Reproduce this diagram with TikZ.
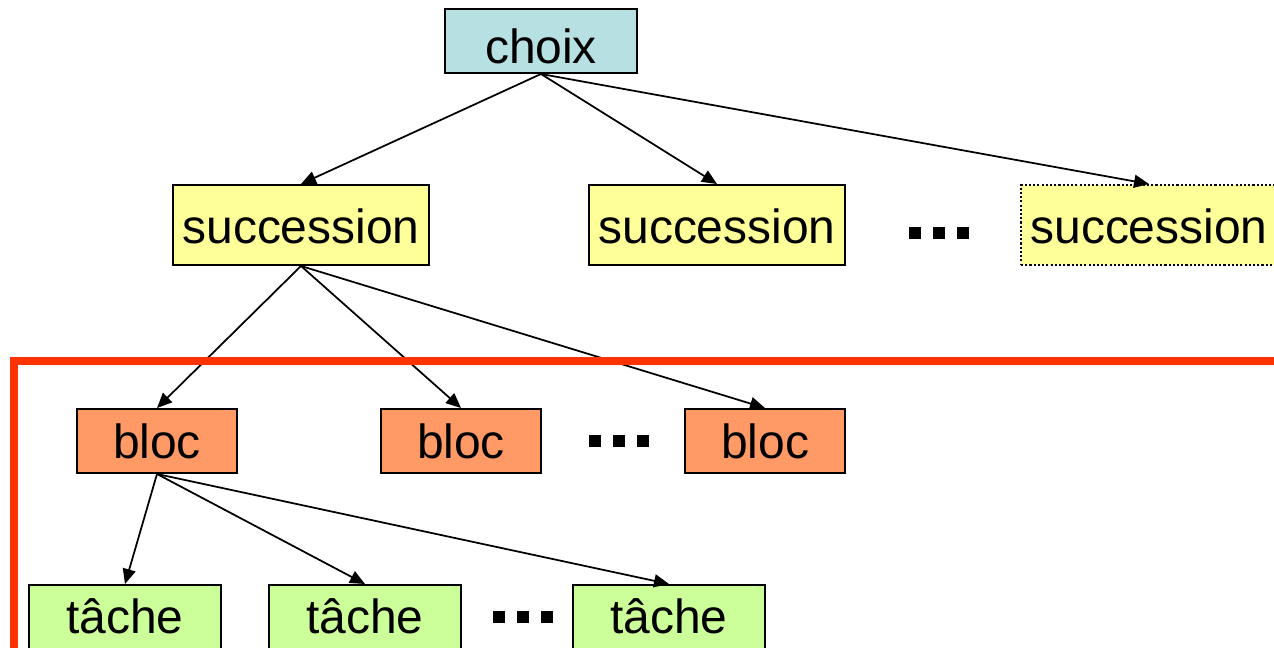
\documentclass[tikz,border=0pt]{standalone}
\usepackage{fontspec}
\setmainfont{Liberation Sans}
\usetikzlibrary{arrows.meta}

\definecolor{choixblue}{RGB}{183,224,227}
\definecolor{succyellow}{RGB}{255,255,153}
\definecolor{blocorange}{RGB}{255,153,102}
\definecolor{tachegreen}{RGB}{204,255,153}
\definecolor{framered}{RGB}{255,51,0}

\tikzset{
    box/.style={draw, line width=0.04cm, inner sep=0pt,
        font=\fontsize{27.3}{31}\selectfont, text height=20pt, text depth=0pt},
    choixbox/.style={box, fill=choixblue, minimum width=3.84cm, minimum height=1.28cm, text height=26pt},
    succbox/.style={box, fill=succyellow, minimum width=5.12cm, minimum height=1.6cm, text height=21pt},
    blocbox/.style={box, fill=blocorange, minimum width=3.2cm, minimum height=1.28cm},
    tachebox/.style={box, fill=tachegreen, minimum width=3.84cm, minimum height=1.28cm, text height=19pt},
    link/.style={-{Triangle[length=0.3cm, width=0.26cm]}, line width=0.035cm}
}

\begin{document}
\begin{tikzpicture}[x=0.02cm, y=-0.02cm]
        \path[use as bounding box, clip] (0,0) rectangle (1274,648);

        \node[choixbox] (choix) at (541,41) {choix};

        \node[succbox] (succA) at (301,225) {succession};
        \node[succbox] (succB) at (717,225) {succession};
        \node[succbox, dash pattern=on 1.2pt off 1.2pt] (succC) at (1149,225) {succession};

        \node[blocbox] (blocA) at (157,441) {bloc};
        \node[blocbox] (blocB) at (461,441) {bloc};
        \node[blocbox] (blocC) at (765,441) {bloc};

        \node[tachebox] (tacheA) at (125,617) {tâche};
        \node[tachebox] (tacheB) at (365,617) {tâche};
        \node[tachebox] (tacheC) at (669,617) {tâche};

        % ellipses between siblings
        \foreach \x in {909,933,957} \fill (\x,227) rectangle ++(12,12);
        \foreach \x in {589,613,637} \fill (\x,435) rectangle ++(12,12);
        \foreach \x in {493,517,541} \fill (\x,611) rectangle ++(12,12);

        \draw[link] (choix.south) -- (succA.north);
        \draw[link] (choix.south) -- (succB.north);
        \draw[link] (choix.south) -- (succC.north);

        \draw[link] (succA.south) -- (blocA.north);
        \draw[link] (succA.south) -- (blocB.north);
        \draw[link] (succA.south) -- (blocC.north);

        \draw[link] (blocA.south) -- (tacheA.north);
        \draw[link] (blocA.south) -- (tacheB.north);
        \draw[link] (blocA.south) -- (tacheC.north);

        % frame round the lower levels
        \draw[framered, line width=0.16cm] (14,700) -- (14,361) -- (1320,361);
    \end{tikzpicture}
\end{document}
